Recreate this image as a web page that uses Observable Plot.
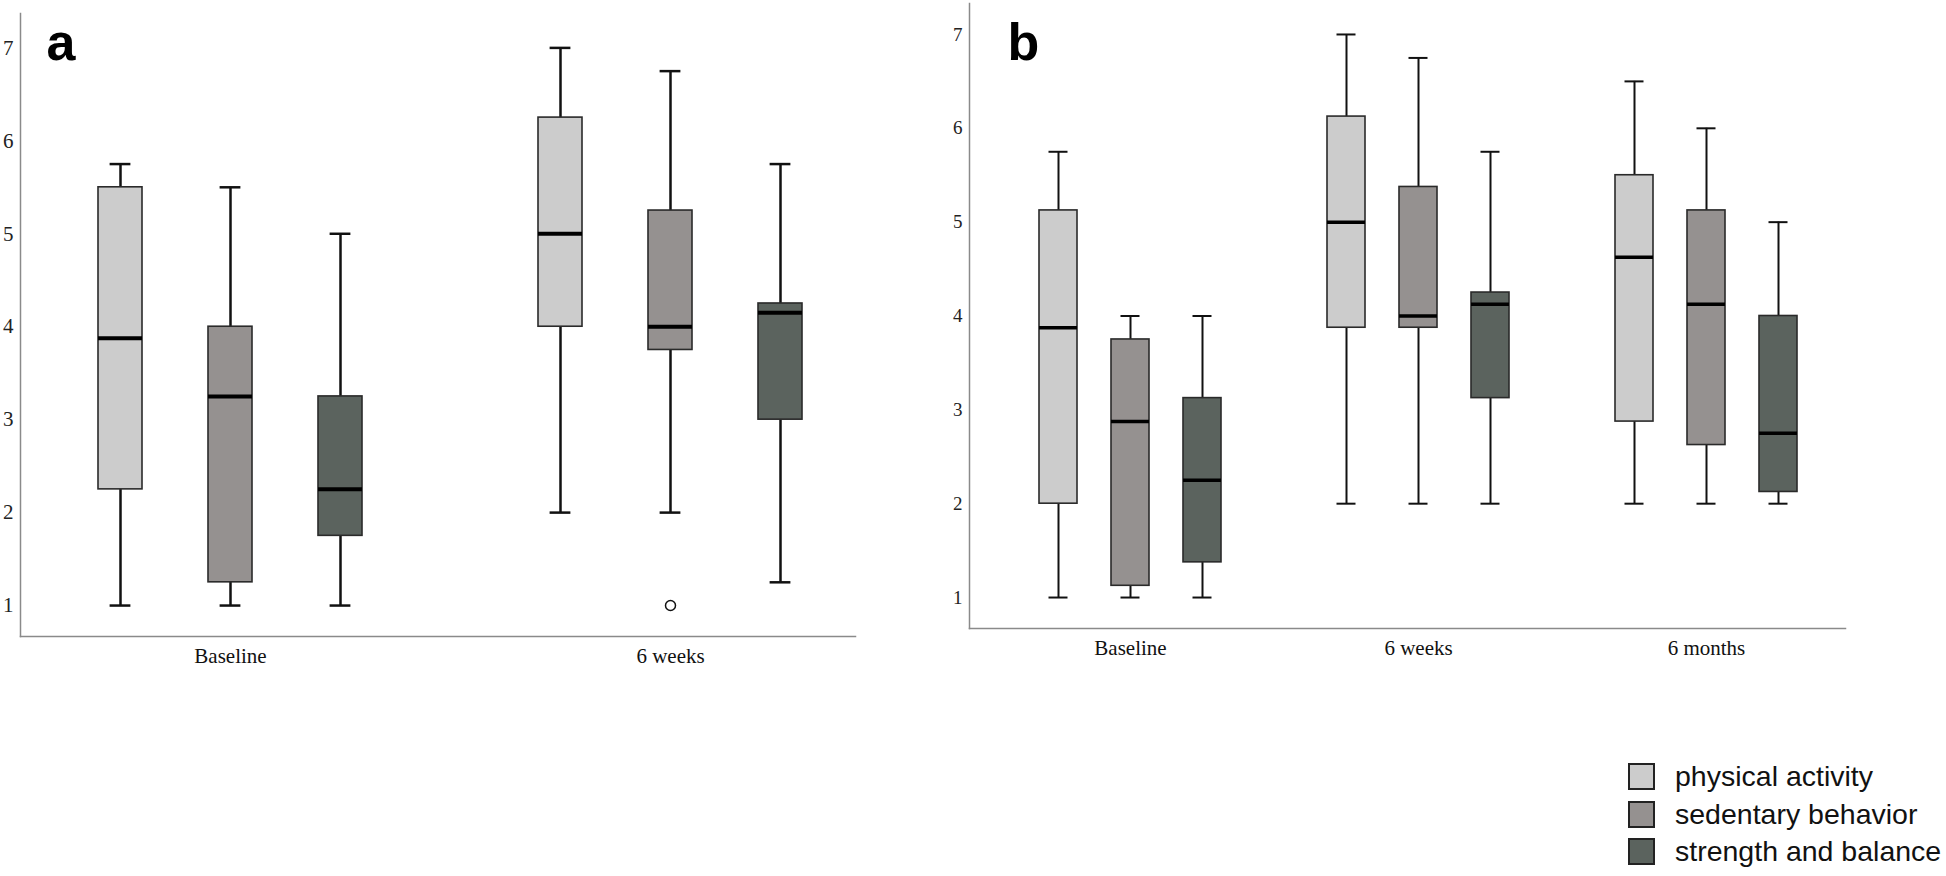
<!DOCTYPE html>
<html><head><meta charset="utf-8">
<script src="https://cdn.jsdelivr.net/npm/d3@7"></script>
<script src="https://cdn.jsdelivr.net/npm/@observablehq/plot@0.6"></script>
<style>
body{margin:0;background:#fff;}
#wrap{position:relative;width:1946px;height:876px;overflow:hidden;background:#fff;}
#pa{position:absolute;left:0;top:0;}
#pb{position:absolute;left:940px;top:0;}
#legend{position:absolute;left:1628px;top:758px;font-family:"Liberation Sans",Arial,sans-serif;font-size:28.5px;color:#111;}
.row{display:flex;align-items:center;height:37.5px;white-space:nowrap;}
.sw{width:27px;height:27px;box-sizing:border-box;border:2px solid #222;margin-right:20px;flex:none;}
</style></head>
<body><div id="wrap"><div id="pa"></div><div id="pb"></div><div id="legend"></div></div>
<script>
// ---- data ----
const series = ["physical activity", "sedentary behavior", "strength and balance"];
const seriesColors = ["#cccccc", "#959190", "#5b635e"];
const yTicks = [1, 2, 3, 4, 5, 6, 7];

// panel a (group-major, series-minor)
const groupsA = ["Baseline", "6 weeks"];
const aLow  = [1, 1, 1,          2, 2, 1.25];
const aQ1   = [2.25, 1.25, 1.75, 4, 3.75, 3];
const aMed  = [3.875, 3.25, 2.25, 5, 4, 4.15];
const aQ3   = [5.5, 4, 3.25,     6.25, 5.25, 4.25];
const aHigh = [5.75, 5.5, 5,     7, 6.75, 5.75];
const aOutliers = [{group: "6 weeks", series: "sedentary behavior", value: 1}];

// panel b
const groupsB = ["Baseline", "6 weeks", "6 months"];
const bLow  = [1, 1, 1,             2, 2, 2,              2, 2, 2];
const bQ1   = [2, 1.125, 1.375,     3.875, 3.875, 3.125,  2.875, 2.625, 2.125];
const bMed  = [3.875, 2.875, 2.25,  5, 4, 4.125,          4.625, 4.125, 2.75];
const bQ3   = [5.125, 3.75, 3.125,  6.125, 5.375, 4.25,   5.5, 5.125, 4];
const bHigh = [5.75, 4, 4,          7, 6.75, 5.75,        6.5, 6, 5];
const bOutliers = [];

function panel(groups, low, q1, med, q3, high, outliers, o) {
  const key = (g, s) => g + "|" + s;
  const rows = groups.flatMap((g, gi) => series.map((s, si) => {
    const i = gi * series.length + si;
    return {group: g, series: s, key: key(g, s), low: low[i], q1: q1[i], med: med[i], q3: q3[i], high: high[i]};
  }));
  const domain = groups.flatMap((g, gi) => (gi > 0 ? ["gap" + gi] : []).concat(series.map(s => key(g, s))));
  const mids = groups.map(g => key(g, series[1]));
  const outs = outliers.map(d => ({...d, key: key(d.group, d.series)}));
  const ink = "#111";
  return Plot.plot({
    width: o.width, height: o.height,
    marginLeft: o.ml, marginRight: o.mr, marginTop: o.mt, marginBottom: o.mb,
    style: {fontFamily: '"Liberation Serif", "Times New Roman", serif', color: "#222", background: "#fff"},
    x: {type: "band", domain, paddingInner: o.pi, paddingOuter: o.po, align: o.align, label: null},
    y: {domain: o.ydom, label: null},
    color: {domain: series, range: seriesColors},
    marks: [
      Plot.frame({anchor: "left", stroke: "#8a8a8a", strokeWidth: 1.5}),
      Plot.frame({anchor: "bottom", stroke: "#8a8a8a", strokeWidth: 1.5}),
      Plot.axisY(yTicks, {tickSize: 0, tickPadding: 7, fontSize: o.yfs, fill: "#222", label: null, tickFormat: d => String(d)}),
      Plot.axisX(mids, {tickSize: 0, tickPadding: 12, fontSize: 21, fill: "#111", label: null, tickFormat: k => k.split("|")[0]}),
      Plot.ruleX(rows, {x: "key", y1: "low", y2: "q1", stroke: ink, strokeWidth: o.ws}),
      Plot.ruleX(rows, {x: "key", y1: "q3", y2: "high", stroke: ink, strokeWidth: o.ws}),
      Plot.tickY(rows, {x: "key", y: "low", stroke: ink, strokeWidth: o.ws, insetLeft: o.cap, insetRight: o.cap}),
      Plot.tickY(rows, {x: "key", y: "high", stroke: ink, strokeWidth: o.ws, insetLeft: o.cap, insetRight: o.cap}),
      Plot.barY(rows, {x: "key", y1: "q1", y2: "q3", fill: "series", stroke: "#2a2a2a", strokeWidth: 1.6}),
      Plot.tickY(rows, {x: "key", y: "med", stroke: "#000", strokeWidth: o.mw}),
      Plot.dot(outs, {x: "key", y: "value", r: 5, stroke: ink, strokeWidth: 1.5, fill: "#fff"}),
      Plot.text([o.letter], {text: d => d, frameAnchor: "top-left", textAnchor: "start", lineAnchor: "top",
        dx: o.ldx, dy: o.ldy, fontSize: 52, fontWeight: "bold", fontFamily: '"Liberation Sans", Arial, sans-serif', fill: "#000"})
    ]
  });
}

document.getElementById("pa").append(panel(groupsA, aLow, aQ1, aMed, aQ3, aHigh, aOutliers, {
  width: 880, height: 690, ml: 20, mr: 25, mt: 13, mb: 54,
  ydom: [0.667, 7.37], pi: 0.6, po: 0.57, align: 0.593,
  cap: 11.6, ws: 2.5, mw: 4, yfs: 21, letter: "a", ldx: 26, ldy: 10
}));

document.getElementById("pb").append(panel(groupsB, bLow, bQ1, bMed, bQ3, bHigh, bOutliers, {
  width: 925, height: 682, ml: 29, mr: 20, mt: 3, mb: 54,
  ydom: [0.67, 7.33], pi: 0.476, po: 0.779, align: 0.593,
  cap: 9.5, ws: 2, mw: 3.5, yfs: 19, letter: "b", ldx: 38, ldy: 20
}));

// legend
const leg = d3.select("#legend");
series.forEach((s, i) => {
  const row = leg.append("div").attr("class", "row");
  row.append("div").attr("class", "sw").style("background", seriesColors[i]);
  row.append("span").text(s);
});
</script>
</body></html>
